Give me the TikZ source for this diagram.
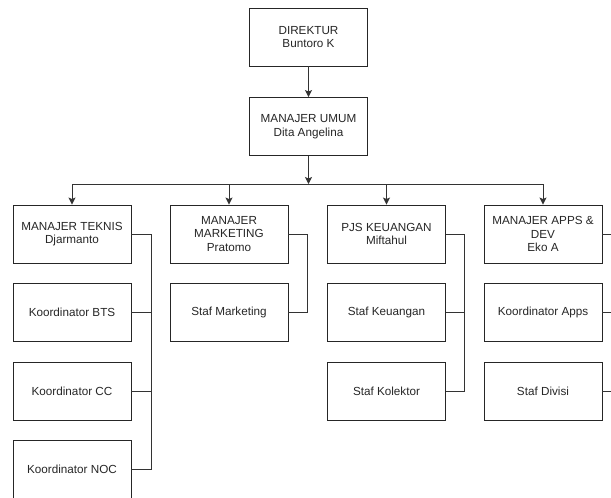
\documentclass[tikz,border=0pt]{standalone}
\usepackage{fontspec}
\setmainfont{Liberation Sans}
\usetikzlibrary{arrows.meta}
\begin{document}
\begin{tikzpicture}[x=1pt,y=-1pt,
 box/.style={draw=black!85, line width=0.9pt, minimum width=118pt, minimum height=58pt, align=center, font=\fontsize{11.7}{13.5}\selectfont, text=black!85, inner sep=1pt},
 conn/.style={draw=black!80, line width=1pt},
 arr/.style={conn, -{Stealth[length=7pt,width=7pt,inset=1.5pt]}}]
\useasboundingbox (0,0) rectangle (611,498);
\clip (0,0) rectangle (611,498);
\node[box] (dir) at (308.5,37) {DIREKTUR\\Buntoro K};
\node[box] (umum) at (308.5,126.5) {MANAJER UMUM\\Dita Angelina};
\node[box] (teknis) at (72,234) {MANAJER TEKNIS\\Djarmanto};
\node[box] (mkt) at (229,234) {MANAJER\\MARKETING\\Pratomo};
\node[box] (keu) at (386.5,234) {PJS KEUANGAN\\Miftahul};
\node[box] (apps) at (543,234) {MANAJER APPS \&\\DEV\\Eko A};
\node[box] (bts) at (72,312.5) {Koordinator BTS};
\node[box] (cc) at (72,391.5) {Koordinator CC};
\node[box] (noc) at (72,469.5) {Koordinator NOC};
\node[box] (smkt) at (229,312.5) {Staf Marketing};
\node[box] (skeu) at (386.5,312.5) {Staf Keuangan};
\node[box] (skol) at (386.5,391.5) {Staf Kolektor};
\node[box] (kapps) at (543,312.5) {Koordinator Apps};
\node[box] (sdiv) at (543,391.5) {Staf Divisi};
\coordinate (bus) at (308.5,184);
\draw[arr] (dir) -- (umum);
\draw[arr] (umum) -- (bus);
\draw[conn] (teknis.north |- bus) -- (apps.north |- bus);
\foreach \n in {teknis,mkt,keu,apps} \draw[arr] (\n.north |- bus) -- (\n.north);
\coordinate (tx) at (151,0);
\coordinate (mx) at (307,0);
\coordinate (kx) at (464,0);
\coordinate (ax) at (622,0);
\draw[conn] (teknis.east) -- (teknis.east -| tx) |- (noc.east);
\draw[conn] (bts.east) -- (bts.east -| tx);
\draw[conn] (cc.east) -- (cc.east -| tx);
\draw[conn] (mkt.east) -- (mkt.east -| mx) |- (smkt.east);
\draw[conn] (keu.east) -- (keu.east -| kx) |- (skol.east);
\draw[conn] (skeu.east) -- (skeu.east -| kx);
\draw[conn] (apps.east) -- (apps.east -| ax) |- (sdiv.east);
\draw[conn] (kapps.east) -- (kapps.east -| ax);
\end{tikzpicture}
\end{document}
